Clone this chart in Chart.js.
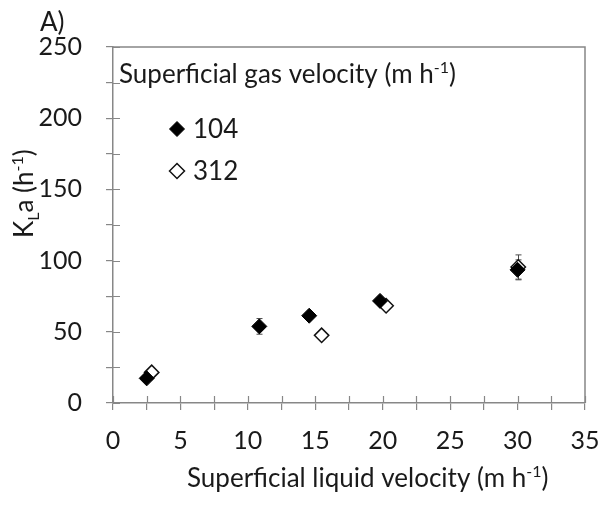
<!DOCTYPE html>
<html><head><meta charset="utf-8">
<script src="https://cdn.jsdelivr.net/npm/chart.js@4/dist/chart.umd.min.js"></script>
<style>html,body{margin:0;padding:0;background:#fff}#wrap{width:602px;height:507px;position:relative}</style>
</head><body><div id="wrap"><canvas id="c" width="602" height="507"></canvas></div>
<script>
// Superficial gas velocity series
const seriesLabels = ['104', '312'];
// Superficial liquid velocity (m h-1)
const liquidVel104 = [2.5, 10.85, 14.55, 19.8, 30.0];
const liquidVel312 = [2.87, 15.47, 20.25, 30.05];
// KLa (h-1)
const kla104 = [17.3, 53.8, 61.3, 71.7, 93.5];
const kla312 = [21.5, 47.5, 68.3, 95.5];
// error bar half-lengths (h-1)
const err104 = [1.5, 5.5, 2, 2, 7];
const err312 = [1.5, 2, 2, 8.5];
// axis ranges / ticks
const xMin = 0, xMax = 35, xStep = 2.5, xLabelStep = 5;
const yMin = 0, yMax = 250, yStep = 25, yLabelStep = 50;

const FONT = 'Lato, "Open Sans", sans-serif';
const FS = 25, TFS = 26, SUP = 16;
const AXIS = '#878787';
const TXT = '#1a1a1a';

const errSets = [err104, err312];
const xSets = [liquidVel104, liquidVel312];
const ySets = [kla104, kla312];

function textWithSup(ctx, x, y, before, sup, after) {
  ctx.font = TFS + 'px ' + FONT;
  ctx.fillText(before, x, y);
  x += ctx.measureText(before).width;
  ctx.font = SUP + 'px ' + FONT;
  ctx.fillText(sup, x, y - 10);
  x += ctx.measureText(sup).width;
  ctx.font = TFS + 'px ' + FONT;
  ctx.fillText(after, x, y);
}

const decor = {
  id: 'decor',
  beforeDatasetsDraw(chart) {
    const ctx = chart.ctx, xs = chart.scales.x, ys = chart.scales.y;
    const a = chart.chartArea;
    ctx.save();
    ctx.strokeStyle = AXIS; ctx.lineWidth = 1.5;
    ctx.beginPath();
    ctx.moveTo(a.left, a.top); ctx.lineTo(a.right, a.top); ctx.lineTo(a.right, a.bottom);
    ctx.stroke();
    ctx.lineWidth = 1.2;
    ctx.beginPath();
    xs.ticks.forEach(t => { const px = Math.round(xs.getPixelForValue(t.value)) + 0.5; ctx.moveTo(px, a.bottom); ctx.lineTo(px, a.bottom - 7); });
    ys.ticks.forEach(t => { const py = Math.round(ys.getPixelForValue(t.value)) + 0.5; ctx.moveTo(a.left, py); ctx.lineTo(a.left + 7, py); });
    ctx.stroke();
    ctx.strokeStyle = '#4a4a4a'; ctx.lineWidth = 1;
    for (let d = 0; d < xSets.length; d++) {
      for (let i = 0; i < xSets[d].length; i++) {
        const px = Math.round(xs.getPixelForValue(xSets[d][i])) + 0.5;
        const top = ys.getPixelForValue(ySets[d][i] + errSets[d][i]);
        const bot = ys.getPixelForValue(ySets[d][i] - errSets[d][i]);
        ctx.beginPath();
        ctx.moveTo(px, top); ctx.lineTo(px, bot);
        ctx.moveTo(px - 3, top); ctx.lineTo(px + 3, top);
        ctx.moveTo(px - 3, bot); ctx.lineTo(px + 3, bot);
        ctx.stroke();
      }
    }
    ctx.restore();
  },
  afterDraw(chart) {
    const ctx = chart.ctx;
    ctx.save();
    ctx.fillStyle = TXT;
    ctx.textBaseline = 'alphabetic';
    ctx.textAlign = 'left';
    ctx.font = TFS + 'px ' + FONT;
    ctx.fillText('A)', 40, 31);
    textWithSup(ctx, 119, 83, 'Superficial gas velocity (m h', '-1', ')');
    const ds = chart.data.datasets;
    const rows = [129, 171];
    for (let i = 0; i < ds.length; i++) {
      ctx.fillStyle = ds[i].backgroundColor; ctx.strokeStyle = ds[i].borderColor; ctx.lineWidth = ds[i].borderWidth;
      Chart.helpers.drawPoint(ctx, { pointStyle: 'rectRot', radius: 7.5, borderWidth: ds[i].borderWidth }, 177, rows[i]);
      ctx.fillStyle = TXT;
      ctx.font = TFS + 'px ' + FONT;
      ctx.textBaseline = 'middle';
      ctx.fillText(ds[i].label, 193, rows[i] + 1);
      ctx.textBaseline = 'alphabetic';
    }
    textWithSup(ctx, 187, 487, 'Superficial liquid velocity (m h', '-1', ')');
    ctx.translate(33, 238);
    ctx.rotate(-Math.PI / 2);
    let x = 0;
    ctx.font = TFS + 'px ' + FONT;
    ctx.fillText('K', x, 0); x += ctx.measureText('K').width;
    ctx.font = SUP + 'px ' + FONT;
    ctx.fillText('L', x, 6); x += ctx.measureText('L').width;
    ctx.font = TFS + 'px ' + FONT;
    ctx.fillText('a (h', x, 0); x += ctx.measureText('a (h').width;
    ctx.font = SUP + 'px ' + FONT;
    ctx.fillText('-1', x, -10); x += ctx.measureText('-1').width;
    ctx.font = TFS + 'px ' + FONT;
    ctx.fillText(')', x, 0);
    ctx.restore();
  }
};

new Chart(document.getElementById('c'), {
  type: 'scatter',
  data: {
    datasets: [
      { label: seriesLabels[0], data: liquidVel104.map((v, i) => ({ x: v, y: kla104[i] })),
        pointStyle: 'rectRot', pointRadius: 7.5, pointHoverRadius: 7.5,
        backgroundColor: '#000000', borderColor: '#000000', borderWidth: 1 },
      { label: seriesLabels[1], data: liquidVel312.map((v, i) => ({ x: v, y: kla312[i] })),
        pointStyle: 'rectRot', pointRadius: 7.2, pointHoverRadius: 7.2,
        backgroundColor: '#ffffff', borderColor: '#111111', borderWidth: 1.5 }
    ]
  },
  options: {
    responsive: false, animation: false, devicePixelRatio: 1,
    layout: { padding: { left: 0, top: 47, right: 17, bottom: 0 } },
    plugins: { legend: { display: false }, tooltip: { enabled: false }, title: { display: false } },
    scales: {
      x: {
        type: 'linear', min: xMin, max: xMax,
        ticks: { stepSize: xStep, autoSkip: false, maxRotation: 0, color: TXT, padding: 16,
          font: { family: FONT, size: FS },
          callback: v => (Math.abs(v % xLabelStep) < 1e-9 ? String(v) : '') },
        grid: { drawOnChartArea: false, tickLength: 7, color: AXIS, lineWidth: 1.2 },
        border: { color: AXIS, width: 1.5 },
        afterFit: s => { s.height = 104; s.paddingLeft = 0; s.paddingRight = 0; }
      },
      y: {
        type: 'linear', min: yMin, max: yMax,
        ticks: { stepSize: yStep, autoSkip: false, color: TXT, padding: 24,
          font: { family: FONT, size: FS },
          callback: v => (Math.abs(v % yLabelStep) < 1e-9 ? String(v) : '') },
        grid: { drawOnChartArea: false, tickLength: 7, color: AXIS, lineWidth: 1.2 },
        border: { color: AXIS, width: 1.5 },
        afterFit: s => { s.width = 113; s.paddingTop = 0; s.paddingBottom = 0; }
      }
    }
  },
  plugins: [decor]
});
</script>
</body></html>
